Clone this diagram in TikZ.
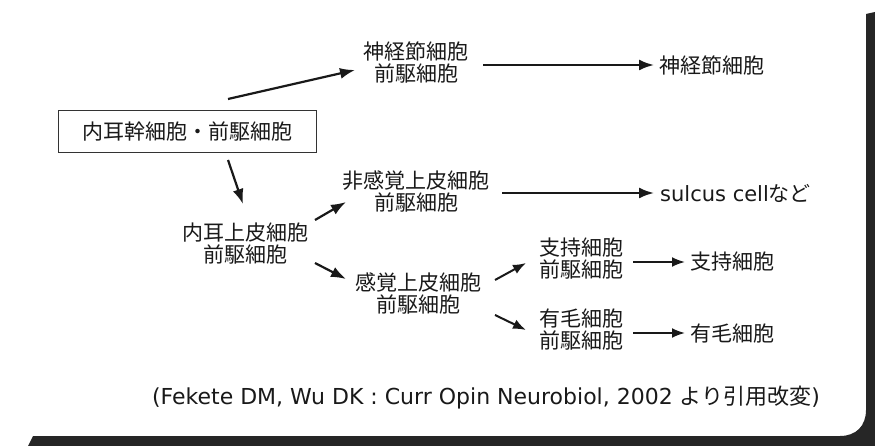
\documentclass[tikz,border=0pt]{standalone}
\usepackage{fontspec}
\setmainfont{Noto Sans CJK JP}
\newfontfamily\lat{DejaVu Sans}
\usetikzlibrary{arrows.meta,calc}
\begin{document}
\begin{tikzpicture}[x=1pt,y=-1pt,
  lbl/.style={font=\fontsize{21}{22}\selectfont, align=center, inner sep=0pt, text=black!90},
  arr/.style={-{Latex[length=15pt,width=11pt]}, line width=2.2pt, draw=black!90},
  sarr/.style={-{Latex[length=13pt,width=10pt]}, line width=2pt, draw=black!90}]
\useasboundingbox (0,0) rectangle (875,446);
\fill[white] (0,0) rectangle (875,446);
\fill[black!85] (866,14) -- (875,12) -- (875,446) -- (28,446) -- (33,436) -- (840,436)
  .. controls (856,436) and (866,426) .. (866,410) -- cycle;
% nodes
\node[draw=black!80, line width=0.9pt, minimum width=258pt, minimum height=42pt, lbl] (stem) at (187,131) {内耳幹細胞・前駆細胞};
\node[lbl] (gp) at (416,62) {神経節細胞\\前駆細胞};
\node[lbl, anchor=west] (g) at (659,65) {神経節細胞};
\node[lbl] (ep) at (245,244) {内耳上皮細胞\\前駆細胞};
\node[lbl] (nsp) at (416,191) {非感覚上皮細胞\\前駆細胞};
\node[lbl, anchor=west] (sul) at (660,193) {{\lat sulcus cell}など};
\node[lbl] (sp) at (418,293) {感覚上皮細胞\\前駆細胞};
\node[lbl] (scp) at (581,259) {支持細胞\\前駆細胞};
\node[lbl, anchor=west] (sc) at (690,262) {支持細胞};
\node[lbl] (hcp) at (581,330) {有毛細胞\\前駆細胞};
\node[lbl, anchor=west] (hc) at (690,334) {有毛細胞};
\node[lbl, font=\fontsize{22}{24}\selectfont] (cite) at (486,398) {{\lat (Fekete DM, Wu DK : Curr Opin Neurobiol, 2002 }より引用改変{\lat )}};
% connectors
\draw[arr] ($(stem.center)+(41,-32)$) -- ($(gp.center)+(-61,8)$);
\draw[arr] ($(gp.center)+(67,3)$) -- ($(g.west)+(-5,0)$);
\draw[arr] ($(stem.center)+(41,29)$) -- ($(ep.center)+(-2,-40)$);
\draw[arr] ($(ep.center)+(70,-24)$) -- ($(nsp.center)+(-70,11)$);
\draw[arr] ($(nsp.center)+(86,2)$) -- ($(sul.west)+(-6,0)$);
\draw[arr] ($(ep.center)+(70,19)$) -- ($(sp.center)+(-72,-14)$);
\draw[sarr] ($(sp.center)+(77,-13)$) -- ($(scp.center)+(-55,4)$);
\draw[sarr] ($(sp.center)+(77,22)$) -- ($(hcp.center)+(-55,0)$);
\draw[sarr] ($(scp.center)+(52,3)$) -- ($(sc.west)+(-5,0)$);
\draw[sarr] ($(hcp.center)+(52,3)$) -- ($(hc.west)+(-5,-1)$);
\end{tikzpicture}
\end{document}
